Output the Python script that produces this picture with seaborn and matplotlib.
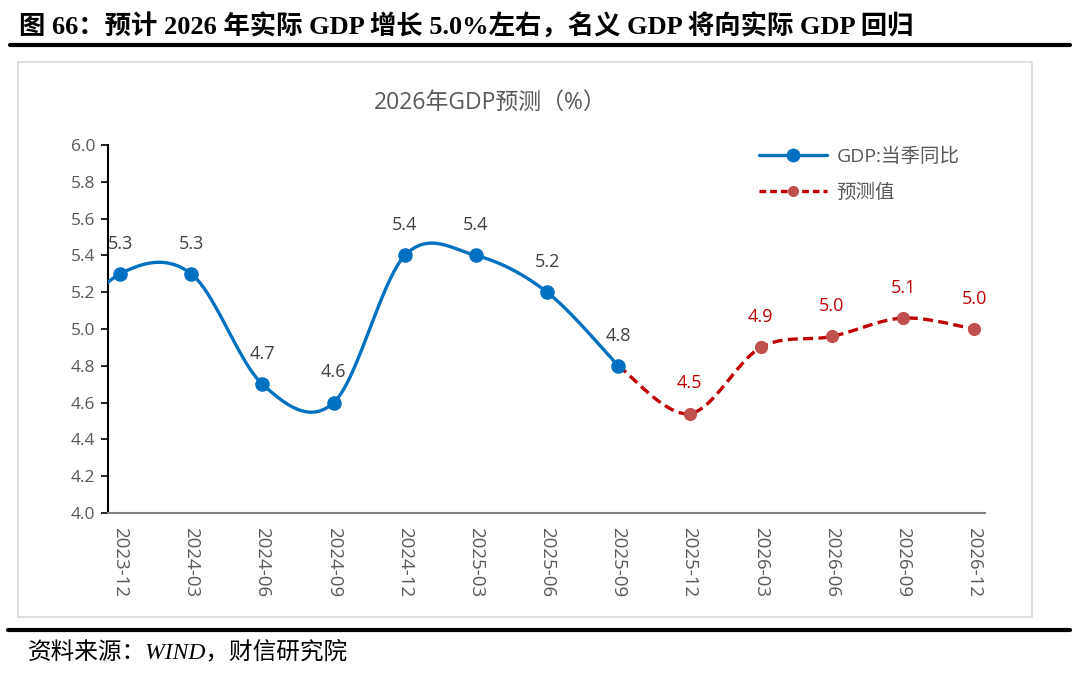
import numpy as np
import pandas as pd
import matplotlib
matplotlib.use("Agg")
import matplotlib.pyplot as plt
import seaborn as sns
from matplotlib.patches import Rectangle
from matplotlib.lines import Line2D

# quarters shown on the axis
quarters = ["2023-12", "2024-03", "2024-06", "2024-09", "2024-12", "2025-03", "2025-06",
            "2025-09", "2025-12", "2026-03", "2026-06", "2026-09", "2026-12"]
# actual GDP yoy (2023-09 sits just left of the axis, only its curve shows)
actual_pos = [-1, 0, 1, 2, 3, 4, 5, 6, 7]
actual_val = [4.9, 5.3, 5.3, 4.7, 4.6, 5.4, 5.4, 5.2, 4.8]
actual_lbl = ["", "5.3", "5.3", "4.7", "4.6", "5.4", "5.4", "5.2", "4.8"]
# forecast
fc_pos = [7, 8, 9, 10, 11, 12]
fc_val = [4.8, 4.54, 4.9, 4.96, 5.06, 5.0]
fc_lbl = ["", "4.5", "4.9", "5.0", "5.1", "5.0"]

sns.set_style("white")
plt.rcParams["font.family"] = ["Open Sans", "Noto Sans CJK SC", "DejaVu Sans"]

BLUE = "#0070C0"
RED = "#C00000"
MRED = "#C0504D"
GREY = "#595959"
SERIF = ["Liberation Serif", "Noto Sans CJK SC"]


def smooth(xs, ys, n=40):
    # Excel-style smoothed line (bezier with 1/6 tension)
    p = np.column_stack([xs, ys]).astype(float)
    out = []
    for i in range(len(p) - 1):
        p0 = p[i - 1] if i > 0 else p[i]
        p3 = p[i + 2] if i + 2 < len(p) else p[i + 1]
        c1 = p[i] + (p[i + 1] - p0) / 6
        c2 = p[i + 1] - (p3 - p[i]) / 6
        t = np.linspace(0, 1, n)[:, None]
        seg = ((1 - t) ** 3) * p[i] + 3 * ((1 - t) ** 2) * t * c1 + 3 * (1 - t) * t ** 2 * c2 + t ** 3 * p[i + 1]
        out.append(seg if i == 0 else seg[1:])
    s = np.vstack(out)
    return pd.DataFrame({"x": s[:, 0], "y": s[:, 1]})


fig = plt.figure(figsize=(10.8, 6.75), dpi=100)
ax = fig.add_axes([0.1, 0.24, 0.812, 0.545])

a_df = pd.DataFrame({"x": actual_pos, "y": actual_val})
f_df = pd.DataFrame({"x": fc_pos, "y": fc_val})

sns.lineplot(data=smooth(fc_pos, fc_val), x="x", y="y", sort=False, ax=ax,
             color=RED, lw=2.4, linestyle=(0, (3, 1.6)), zorder=2)
sns.lineplot(data=smooth(actual_pos, actual_val), x="x", y="y", sort=False, ax=ax,
             color=BLUE, lw=2.4, zorder=3)
sns.scatterplot(data=f_df.iloc[1:], x="x", y="y", ax=ax, color=MRED, s=90,
                edgecolor=MRED, linewidth=0, zorder=4)
sns.scatterplot(data=a_df.iloc[1:], x="x", y="y", ax=ax, color=BLUE, s=110,
                edgecolor=BLUE, linewidth=0, zorder=5)

for x, y, t in zip(actual_pos, actual_val, actual_lbl):
    if t:
        ax.text(x, y + 0.165, t, ha="center", va="center", fontsize=13, color="#404040", zorder=6)
for x, y, t in zip(fc_pos, fc_val, fc_lbl):
    if t:
        ax.text(x, y + 0.165, t, ha="center", va="center", fontsize=13, color=RED, zorder=6)

ax.set_xlim(-0.17, 12.15)
ax.set_ylim(4.0, 6.0)
ax.set_yticks(np.arange(4.0, 6.01, 0.2))
ax.set_yticklabels([f"{v:.1f}" for v in np.arange(4.0, 6.01, 0.2)], fontsize=12.5, color=GREY)
ax.set_xticks(range(len(quarters)))
ax.set_xticklabels(quarters, rotation=270, fontsize=13.5, color=GREY, va="top", ha="center")
ax.set_xticks(np.arange(len(quarters)) - 0.17, minor=True)
ax.tick_params(axis="x", which="major", length=0, pad=10)
ax.tick_params(axis="x", which="minor", length=5, width=1.2, color="#808080", direction="out")
ax.tick_params(axis="y", length=5, width=1.2, color="black", direction="out", pad=4, left=True)
ax.set_xlabel("")
ax.set_ylabel("")
for side in ["top", "right"]:
    ax.spines[side].set_visible(False)
ax.spines["left"].set_color("black")
ax.spines["left"].set_linewidth(1.5)
ax.spines["bottom"].set_color("#808080")
ax.spines["bottom"].set_linewidth(1.5)

handles = [
    Line2D([0], [0], color=BLUE, lw=2.4, marker="o", markersize=10, markerfacecolor=BLUE, markeredgewidth=0),
    Line2D([0], [0], color=RED, lw=2.4, linestyle=(0, (2, 1.2)), marker="o", markersize=8,
           markerfacecolor=MRED, markeredgewidth=0),
]
leg = ax.legend(handles, ["GDP:当季同比", "预测值"], loc="upper left", bbox_to_anchor=(0.722, 1.04),
                frameon=False, fontsize=14, handlelength=3.5, labelspacing=0.9, handletextpad=0.5)
for t in leg.get_texts():
    t.set_color(GREY)

# chart title inside the frame
fig.text(0.454, 0.848, "2026年GDP预测（%）", ha="center", va="center", fontsize=16.5, color=GREY)

# outer frame
fig.patches.append(Rectangle((0.0167, 0.086), 0.939, 0.822, transform=fig.transFigure,
                             fill=False, edgecolor="#d9d9d9", lw=1.2))

# report header and footer
fig.text(0.018, 0.961, "图 66：预计 2026 年实际 GDP 增长 5.0%左右，名义 GDP 将向实际 GDP 回归",
         ha="left", va="center", fontsize=19, fontweight="bold", color="black", family=SERIF)
fig.add_artist(Line2D([0.009, 0.991], [0.933, 0.933], transform=fig.transFigure, color="black", lw=3))
fig.add_artist(Line2D([0.007, 0.991], [0.067, 0.067], transform=fig.transFigure, color="black", lw=3))
fig.text(0.026, 0.034, "资料来源：WIND，财信研究院", ha="left", va="center", fontsize=17,
         style="italic", color="black", family=SERIF)

fig.savefig("out.png", dpi=100)
